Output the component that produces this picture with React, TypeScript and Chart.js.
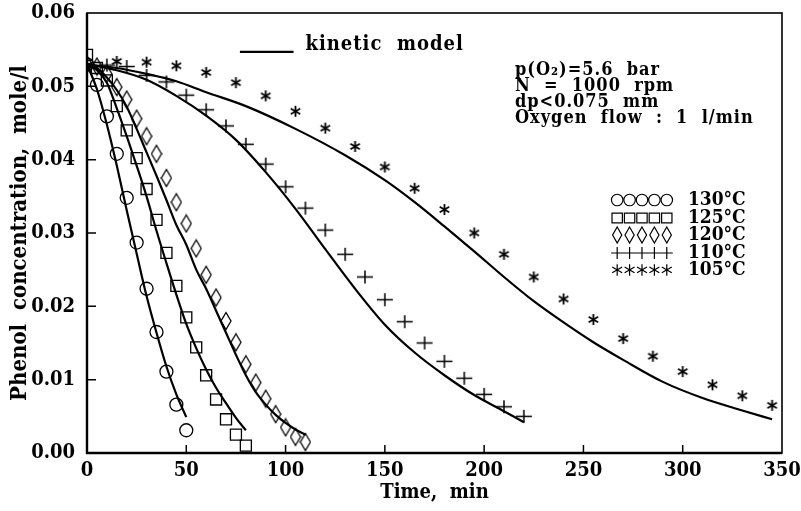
import React, { useEffect, useRef } from "react";
import { Chart, registerables } from "chart.js";

Chart.register(...registerables);

// ---------- axis ticks ----------
const timeTicks = [0, 50, 100, 150, 200, 250, 300, 350];
const concTicks = [0, 0.01, 0.02, 0.03, 0.04, 0.05, 0.06];

// ---------- experimental data ----------
const t130 = [0, 5, 10, 15, 20, 25, 30, 35, 40, 45, 50];
const c130 = [0.053, 0.0502, 0.0459, 0.0408, 0.0348, 0.0287, 0.0224, 0.0165, 0.0111, 0.0066, 0.0031];

const t125 = [0, 5, 10, 15, 20, 25, 30, 35, 40, 45, 50, 55, 60, 65, 70, 75, 80];
const c125 = [0.0543, 0.0525, 0.0508, 0.0473, 0.044, 0.0402, 0.036, 0.0318, 0.0273, 0.0228, 0.0185, 0.0144, 0.0106, 0.0073, 0.0046, 0.0025, 0.001];

const t120 = [0, 5, 10, 15, 20, 25, 30, 35, 40, 45, 50, 55, 60, 65, 70, 75, 80, 85, 90, 95, 100, 105, 110];
const c120 = [0.053, 0.0527, 0.0517, 0.0499, 0.0482, 0.0456, 0.0432, 0.0408, 0.0375, 0.0342, 0.0313, 0.0279, 0.0243, 0.0212, 0.018, 0.0151, 0.0121, 0.0096, 0.0074, 0.0053, 0.0035, 0.0022, 0.0015];

const t110 = [0, 10, 20, 30, 40, 50, 60, 70, 80, 90, 100, 110, 120, 130, 140, 150, 160, 170, 180, 190, 200, 210, 220];
const c110 = [0.053, 0.0529, 0.0527, 0.0515, 0.0506, 0.0488, 0.0468, 0.0446, 0.0421, 0.0394, 0.0363, 0.0334, 0.0304, 0.0271, 0.024, 0.0209, 0.0179, 0.015, 0.0125, 0.0102, 0.008, 0.0063, 0.005];

const t105 = [0, 15, 30, 45, 60, 75, 90, 105, 120, 135, 150, 165, 180, 195, 210, 225, 240, 255, 270, 285, 300, 315, 330, 345];
const c105 = [0.0528, 0.0534, 0.0533, 0.0528, 0.0519, 0.0505, 0.0487, 0.0466, 0.0443, 0.0418, 0.039, 0.0361, 0.0332, 0.03, 0.0271, 0.024, 0.021, 0.0182, 0.0156, 0.0132, 0.0111, 0.0093, 0.0078, 0.0065];

// ---------- kinetic model curves ----------
const mt130 = [0, 5, 10, 15, 20, 25, 30, 35, 40, 45, 50];
const mc130 = [0.053, 0.0496, 0.0448, 0.0392, 0.0331, 0.0272, 0.0214, 0.0164, 0.0118, 0.008, 0.0049];

const mt125 = [0, 5, 10, 15, 20, 25, 30, 35, 40, 45, 50, 55, 60, 65, 70, 75, 80];
const mc125 = [0.053, 0.0522, 0.0505, 0.047, 0.0432, 0.0392, 0.035, 0.0303, 0.0259, 0.0216, 0.0176, 0.0143, 0.0114, 0.0089, 0.0068, 0.0048, 0.0031];

const mt120 = [0, 5, 10, 15, 20, 25, 30, 35, 40, 45, 50, 55, 60, 65, 70, 75, 80, 85, 90, 95, 100, 105, 110];
const mc120 = [0.053, 0.0525, 0.0512, 0.0495, 0.0472, 0.0442, 0.041, 0.0378, 0.0345, 0.0311, 0.0284, 0.025, 0.0224, 0.0194, 0.0164, 0.0134, 0.0106, 0.0083, 0.0066, 0.0052, 0.0041, 0.0032, 0.0025];

const mt110 = [0, 15, 30, 45, 60, 75, 90, 105, 120, 135, 150, 165, 180, 195, 210, 220];
const mc110 = [0.053, 0.0522, 0.0509, 0.0487, 0.046, 0.0427, 0.0383, 0.0333, 0.0278, 0.0224, 0.0175, 0.0137, 0.0106, 0.0079, 0.0057, 0.0042];

const mt105 = [0, 15, 30, 45, 60, 80, 105, 130, 150, 165, 180, 195, 210, 225, 240, 255, 270, 290, 310, 330, 345];
const mc105 = [0.053, 0.0525, 0.0517, 0.0507, 0.0492, 0.0473, 0.0442, 0.0406, 0.0372, 0.0342, 0.0309, 0.0275, 0.024, 0.0207, 0.0178, 0.0151, 0.0127, 0.0097, 0.0075, 0.0058, 0.0046];

// ---------- texts ----------
const xTitle = "Time,  min";
const yTitle = "Phenol  concentration,  mole/l";
const modelLabel = "kinetic  model";
const infoLines = ["p(O\u2082)=5.6  bar", "N  =  1000  rpm", "dp<0.075  mm", "Oxygen  flow  :  1  l/min"];
const legendLabels = ["130\u00b0C", "125\u00b0C", "120\u00b0C", "110\u00b0C", "105\u00b0C"];
const legendKinds = ["circle", "square", "diamond", "plus", "star"];

// annotation anchors in data units (time, concentration)
const modelLegendPos = { t0: 77, t1: 104, tText: 110, cLine: 0.0547, cText: 0.0556 };
const infoPos = { t: 215.5, c: [0.0522, 0.05005, 0.04787, 0.04568] };
const legendPos = { tMarks: 267, tText: 302.6, c: [0.0345, 0.03205, 0.02973, 0.02727, 0.02496] };

const FONT = "'DejaVu Serif Condensed', 'DejaVu Serif', serif";

function pts(xs: number[], ys: number[]) {
  return xs.map((x, i) => ({ x, y: ys[i] }));
}

function makeCanvas(w: number, h: number, draw: (c: CanvasRenderingContext2D) => void) {
  const cv = document.createElement("canvas");
  cv.width = w;
  cv.height = h;
  const c = cv.getContext("2d")!;
  c.strokeStyle = "#000";
  c.lineWidth = 1.3;
  draw(c);
  return cv;
}

function drawMarker(ctx: CanvasRenderingContext2D, kind: string, x: number, y: number, s: number) {
  ctx.beginPath();
  if (kind === "circle") {
    ctx.arc(x, y, s * 0.5, 0, Math.PI * 2);
  } else if (kind === "square") {
    ctx.rect(x - s * 0.45, y - s * 0.42, s * 0.9, s * 0.84);
  } else if (kind === "diamond") {
    ctx.moveTo(x, y - s * 0.7);
    ctx.lineTo(x + s * 0.4, y);
    ctx.lineTo(x, y + s * 0.7);
    ctx.lineTo(x - s * 0.4, y);
    ctx.closePath();
  } else if (kind === "star") {
    const r = s * 0.5;
    ctx.moveTo(x, y - r);
    ctx.lineTo(x, y + r);
    const dx = r * Math.cos(Math.PI / 6), dy = r * Math.sin(Math.PI / 6);
    ctx.moveTo(x - dx, y - dy);
    ctx.lineTo(x + dx, y + dy);
    ctx.moveTo(x - dx, y + dy);
    ctx.lineTo(x + dx, y - dy);
  } else if (kind === "plus") {
    ctx.moveTo(x, y - s * 0.5);
    ctx.lineTo(x, y + s * 0.5);
  }
  ctx.stroke();
}

const annotationPlugin = {
  id: "annotations",
  afterDraw(chart: any) {
    const { ctx, chartArea: a, scales } = chart;
    const xs = scales.x, ys = scales.y;
    ctx.save();
    ctx.strokeStyle = "#000";
    ctx.fillStyle = "#000";
    // frame
    ctx.lineWidth = 1.6;
    ctx.strokeRect(a.left, a.top, a.right - a.left, a.bottom - a.top);
    ctx.lineWidth = 2.4;
    ctx.beginPath();
    ctx.moveTo(a.left, a.top);
    ctx.lineTo(a.left, a.bottom);
    ctx.lineTo(a.right, a.bottom);
    ctx.stroke();
    // inward ticks
    ctx.lineWidth = 1.5;
    ctx.beginPath();
    timeTicks.slice(1, -1).forEach((v) => {
      const px = xs.getPixelForValue(v);
      ctx.moveTo(px, a.bottom);
      ctx.lineTo(px, a.bottom - 8);
    });
    concTicks.slice(1, -1).forEach((v) => {
      const py = ys.getPixelForValue(v);
      ctx.moveTo(a.left, py);
      ctx.lineTo(a.left + 9, py);
    });
    ctx.stroke();

    // kinetic model legend
    ctx.lineWidth = 2.2;
    ctx.beginPath();
    const ly = ys.getPixelForValue(modelLegendPos.cLine);
    ctx.moveTo(xs.getPixelForValue(modelLegendPos.t0), ly);
    ctx.lineTo(xs.getPixelForValue(modelLegendPos.t1), ly);
    ctx.stroke();
    ctx.textBaseline = "middle";
    ctx.textAlign = "left";
    try { (ctx as any).letterSpacing = "1px"; } catch (e) {}
    ctx.font = `bold 20px ${FONT}`;
    ctx.fillText(modelLabel, xs.getPixelForValue(modelLegendPos.tText), ys.getPixelForValue(modelLegendPos.cText));

    // info block
    ctx.font = `bold 18px ${FONT}`;
    infoLines.forEach((s, i) => {
      ctx.fillText(s, xs.getPixelForValue(infoPos.t), ys.getPixelForValue(infoPos.c[i]));
    });
    try { (ctx as any).letterSpacing = "0px"; } catch (e) {}

    // marker legend
    ctx.font = `bold 19px ${FONT}`;
    ctx.lineWidth = 1.2;
    const mx0 = xs.getPixelForValue(legendPos.tMarks);
    const sp = 12.4;
    legendKinds.forEach((kind, i) => {
      const py = ys.getPixelForValue(legendPos.c[i]);
      if (kind === "plus") {
        ctx.beginPath();
        ctx.moveTo(mx0 - 6, py);
        ctx.lineTo(mx0 + 4 * sp + 6, py);
        ctx.stroke();
      }
      for (let k = 0; k < 5; k++) {
        drawMarker(ctx, kind, mx0 + k * sp, py, kind === "plus" ? 12 : 11.5);
      }
      ctx.fillText(legendLabels[i], xs.getPixelForValue(legendPos.tText), py);
    });
    ctx.restore();
  },
};

export default function App() {
  const ref = useRef<HTMLCanvasElement | null>(null);

  useEffect(() => {
    const diamond = makeCanvas(12, 20, (c) => {
      c.beginPath();
      c.moveTo(6, 1.5);
      c.lineTo(11, 10);
      c.lineTo(6, 18.5);
      c.lineTo(1, 10);
      c.closePath();
      c.stroke();
    });
    const plus = makeCanvas(18, 15, (c) => {
      c.lineWidth = 1.5;
      c.beginPath();
      c.moveTo(1, 7.5);
      c.lineTo(17, 7.5);
      c.moveTo(9, 1);
      c.lineTo(9, 14);
      c.stroke();
    });
    const star = makeCanvas(15, 15, (c) => {
      c.lineWidth = 1.8;
      drawMarker(c, "star", 7.5, 7.5, 11);
    });

    const lineDs = (xs: number[], ys: number[]) => ({
      data: pts(xs, ys),
      showLine: true,
      borderColor: "#000",
      borderWidth: 2.2,
      pointRadius: 0,
      cubicInterpolationMode: "monotone" as const,
      fill: false,
      order: 1,
    });
    const markDs = (xs: number[], ys: number[], style: any, radius: number) => ({
      data: pts(xs, ys),
      showLine: false,
      pointStyle: style,
      pointRadius: radius,
      borderColor: "#000",
      backgroundColor: "rgba(0,0,0,0)",
      borderWidth: 1.3,
      order: 0,
    });

    const tickFont = { family: FONT, size: 20, weight: "bold" as const };
    const xTitleFont = { family: FONT, size: 20, weight: "bold" as const };
    const yTitleFont = { family: FONT, size: 22, weight: "bold" as const };

    const chart = new Chart(ref.current!, {
      type: "scatter",
      data: {
        datasets: [
          lineDs(mt130, mc130),
          lineDs(mt125, mc125),
          lineDs(mt120, mc120),
          lineDs(mt110, mc110),
          lineDs(mt105, mc105),
          markDs(t130, c130, "circle", 6.5),
          markDs(t125, c125, "rect", 7.8),
          markDs(t120, c120, diamond, 8),
          markDs(t110, c110, plus, 8),
          markDs(t105, c105, star, 7),
        ],
      },
      options: {
        responsive: false,
        animation: false,
        devicePixelRatio: 1,
        layout: { padding: { left: 4, top: 13, right: 19, bottom: 0 } },
        plugins: { legend: { display: false }, tooltip: { enabled: false } },
        scales: {
          x: {
            type: "linear",
            min: 0,
            max: 350,
            grid: { display: false, drawTicks: false },
            border: { display: false },
            afterBuildTicks: (s: any) => {
              s.ticks = timeTicks.map((v) => ({ value: v }));
            },
            ticks: { color: "#000", font: tickFont, padding: 6, maxRotation: 0, autoSkip: false },
            title: { display: true, text: xTitle, color: "#000", font: xTitleFont, padding: { top: 0, bottom: 6 } },
            afterFit: (s: any) => {
              s.height = 58;
              s.paddingLeft = 0;
              s.paddingRight = 0;
            },
          },
          y: {
            type: "linear",
            min: 0,
            max: 0.06,
            grid: { display: false, drawTicks: false },
            border: { display: false },
            afterBuildTicks: (s: any) => {
              s.ticks = concTicks.map((v) => ({ value: v }));
            },
            ticks: {
              color: "#000",
              font: tickFont,
              padding: 12,
              autoSkip: false,
              callback: (v: any) => Number(v).toFixed(2),
            },
            title: { display: true, text: yTitle, color: "#000", font: yTitleFont, padding: { top: 3, bottom: 0 } },
            afterFit: (s: any) => {
              s.width = 83;
              s.paddingTop = 0;
              s.paddingBottom = 0;
            },
          },
        },
      },
      plugins: [annotationPlugin],
    });
    return () => chart.destroy();
  }, []);

  return (
    <div style={{ position: "absolute", left: 0, top: 0, width: 801, height: 511, background: "#fff" }}>
      <canvas ref={ref} width={801} height={511} style={{ display: "block" }} />
    </div>
  );
}
